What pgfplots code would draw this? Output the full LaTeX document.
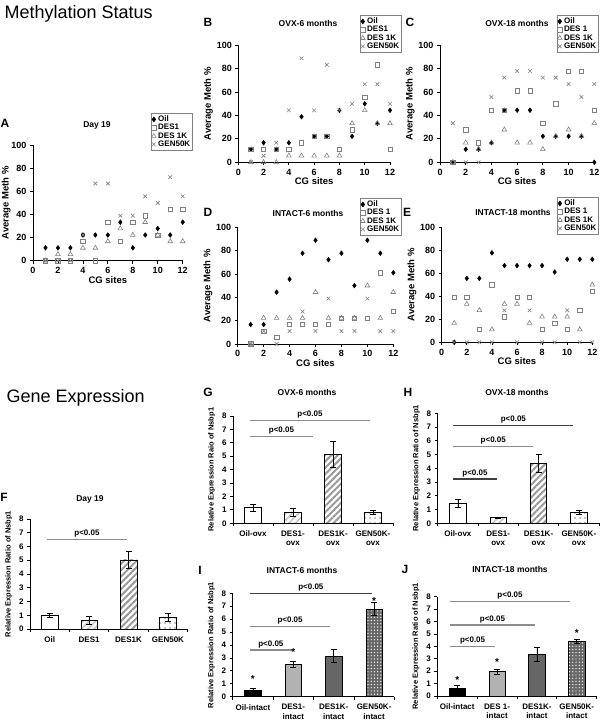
\documentclass[border=0pt]{standalone}
\usepackage{pgfplots}
\pgfplotsset{compat=1.18}
\usepackage{pgfplotstable}
\usepackage{fontspec}
\setmainfont{Liberation Sans}
\usetikzlibrary{patterns,patterns.meta}
\definecolor{mk}{HTML}{808080}
\definecolor{pl}{HTML}{8C8C8C}

\pgfplotstableread{
x oil des1 des1k gen
1 11.1 0 0 0
2 11.1 0 5.6 0
3 11.1 0 5.6 0
4 22.2 16.7 11.1 22.2
5 22.2 0 11.1 66.7
6 22.2 33.3 16.7 66.7
7 33.3 16.7 27.8 38.9
8 11.1 33.3 22.2 38.9
9 22.2 38.9 33.3 55.6
10 27.8 22.2 22.2 50
11 22.2 44.4 16.7 72.2
12 33.3 44.4 16.7 55.6
}\dA
\pgfplotstableread{
x oil des1 des1k gen
1 11.1 11.1 0 0
2 16.7 11.1 0 5.6
3 11.1 11.1 0 16.7
4 16.7 11.1 5.6 44.4
5 38.9 16.7 5.6 88.9
6 22.2 22.2 5.6 44.4
7 22.2 22.2 5.6 83.3
8 44.4 11.1 5.6 44.4
9 22.2 27.8 33.3 50
10 50 55.6 44.4 66.7
11 33.3 83.3 33.3 66.7
12 44.4 11.1 33.3 50
}\dB
\pgfplotstableread{
x oil des1 des1k gen
1 0 0 0 33.3
2 11.1 27.8 16.7 0
3 11.1 16.7 11.1 0
4 16.7 44.4 16.7 55.6
5 44.4 44.4 27.8 72.2
6 44.4 61.1 16.7 77.8
7 44.4 61.1 16.7 77.8
8 22.2 33.3 11.1 72.2
9 22.2 50 22.2 72.2
10 22.2 77.8 27.8 66.7
11 22.2 77.8 22.2 55.6
12 0 44.4 33.3 66.7
}\dC
\pgfplotstableread{
x oil des1 des1k gen
1 16.7 0 0 0
2 16.7 11.1 22.2 11.1
3 44.4 5.6 22.2 0
4 55.6 16.7 22.2 11.1
5 77.8 16.7 22.2 27.8
6 88.9 16.7 44.4 11.1
7 72.2 16.7 22.2 38.9
8 77.8 22.2 22.2 11.1
9 50 22.2 22.2 11.1
10 88.9 22.2 50 38.9
11 77.8 61.1 22.2 11.1
12 61.1 27.8 44.4 11.1
}\dD
\pgfplotstableread{
x oil des1 des1k gen
1 0 38.9 16.7 0
2 55.6 38.9 33.3 0
3 55.6 11.1 27.8 0
4 77.8 50 11.1 0
5 66.7 22.2 33.3 27.8
6 66.7 38.9 33.3 0
7 66.7 38.9 16.7 27.8
8 66.7 11.1 22.2 0
9 61.1 16.7 22.2 0
10 72.2 11.1 22.2 27.8
11 72.2 27.8 11.1 0
12 72.2 44.4 50 0
}\dE

\pgfplotsset{
  meth/.style={
    scale only axis, clip=false,
    axis lines*=left, axis line style={-, line width=0.8pt, black},
    xmin=0, xmax=12, ymin=0, ymax=100,
    xtick={0,2,...,12}, ytick={0,20,...,100},
    tick align=outside, major tick length=3pt,
    every tick/.style={black, line width=0.8pt},
    /pgf/number format/assume math mode=true,
    tick label style={font=\fontsize{9}{10}\selectfont\bfseries},
    xlabel={CG sites}, ylabel={Average Meth \%},
    label style={font=\fontsize{9.5}{11}\selectfont\bfseries},
    xlabel style={yshift=4pt},
    ylabel shift=-3pt,
    legend style={draw=mk, line width=0.6pt, font=\fontsize{8}{8.5}\selectfont\bfseries,
      inner sep=0.5pt, row sep=-2.8pt, anchor=north east, cells={anchor=west}},
  },
  oil/.style={only marks, mark=diamond*, mark size=2.4pt, black, mark options={fill=black}},
  des1/.style={only marks, mark=square, mark size=2.2pt, mk, mark options={line width=0.6pt}},
  des1k/.style={only marks, mark=triangle, mark size=2.7pt, mk, mark options={line width=0.6pt}},
  gen/.style={only marks, mark=x, mark size=2.6pt, mk, mark options={line width=0.6pt}},
  expr/.style={
    scale only axis, clip=false,
    axis lines*=left, axis line style={-, line width=0.8pt, black},
    xmin=0.5, xmax=4.5, ymin=0, ymax=8,
    ytick={0,1,...,8}, xtick={0.5,1.5,2.5,3.5,4.5}, xticklabels={},
    tick align=outside, major tick length=3pt,
    every tick/.style={black, line width=0.8pt},
    /pgf/number format/assume math mode=true,
    tick label style={font=\fontsize{8}{9}\selectfont\bfseries},
    ylabel style={font=\fontsize{7.5}{9}\selectfont\bfseries},
    extra x ticks={1,2,3,4},
    extra x tick style={major tick length=0pt, tick label style={align=center, anchor=north, font=\fontsize{8}{9.5}\selectfont\bfseries, yshift=-4pt}},
  },
  bb/.style={ybar, bar width=16.5pt, bar shift=0pt, draw=black, line width=0.6pt,
    error bars/y dir=both, error bars/y explicit,
    error bars/error bar style={black, line width=0.6pt},
    error bars/error mark options={rotate=90, black, mark size=3pt, line width=0.6pt}},
  wb/.style={fill=white},
  lstr/.style={pattern={Lines[angle=45,distance=4.5pt,line width=1.6pt]}, pattern color=gray!45},
  dstr/.style={pattern={Lines[angle=45,distance=4.5pt,line width=2pt]}, pattern color=gray!80},
  dotb/.style={pattern={Dots[distance=5pt,radius=0.6pt]}, pattern color=black},
  blk/.style={fill=black},
  lgr/.style={fill=black!30},
  dgr/.style={fill=black!60},
  chk/.style={fill=black!60, postaction={pattern={Dots[distance=3.2pt,radius=0.7pt]}, pattern color=white}},
}
\tikzset{pline/.style={pl, line width=1.3pt}, dline/.style={black!75, line width=1.3pt},
  ptxt/.style={font=\fontsize{8}{9}\selectfont\bfseries, text=black, above, inner sep=1.5pt},
  star/.style={font=\fontsize{10}{10}\selectfont\bfseries, inner sep=0pt},
  ttl/.style={font=\fontsize{8.5}{10}\selectfont\bfseries},
  let/.style={font=\fontsize{12}{14}\selectfont\bfseries}}

\begin{document}
\begin{tikzpicture}[x=1pt,y=1pt]
\useasboundingbox (0,0) rectangle (600,723);

\node[anchor=west, font=\fontsize{18}{20}\selectfont] at (1,709) {Methylation Status};
\node[anchor=west, font=\fontsize{18}{20}\selectfont] at (3,325) {Gene Expression};

% ---------- A
\begin{axis}[meth, width=149.7pt, height=115.7pt, at={(33pt,462.3pt)}, anchor=south west,
  ylabel shift=-6pt, legend style={at={(1.069,1.277)}}]
\addplot[oil] table[x=x,y=oil]{\dA};
\addplot[des1] table[x=x,y=des1]{\dA};
\addplot[des1k] table[x=x,y=des1k]{\dA};
\addplot[gen] table[x=x,y=gen]{\dA};
\legend{Oil,DES1,DES 1K,GEN50K}
\end{axis}
% ---------- B
\begin{axis}[meth, width=151.7pt, height=117pt, at={(238.3pt,560.7pt)}, anchor=south west,
  legend style={at={(1.079,1.259)}}]
\addplot[oil] table[x=x,y=oil]{\dB};
\addplot[des1] table[x=x,y=des1]{\dB};
\addplot[des1k] table[x=x,y=des1k]{\dB};
\addplot[gen] table[x=x,y=gen]{\dB};
\legend{Oil,DES1,DES 1K,GEN50K}
\end{axis}
% ---------- C
\begin{axis}[meth, width=154.3pt, height=117.3pt, at={(440pt,560.7pt)}, anchor=south west,
  legend style={at={(1.03,1.256)}}]
\addplot[oil] table[x=x,y=oil]{\dC};
\addplot[des1] table[x=x,y=des1]{\dC};
\addplot[des1k] table[x=x,y=des1k]{\dC};
\addplot[gen] table[x=x,y=gen]{\dC};
\legend{Oil,DES 1,DES 1K,GEN50K}
\end{axis}
% ---------- D
\begin{axis}[meth, width=155.6pt, height=116.7pt, at={(237.7pt,379pt)}, anchor=south west,
  legend style={at={(1.056,1.251)}}]
\addplot[oil] table[x=x,y=oil]{\dD};
\addplot[des1] table[x=x,y=des1]{\dD};
\addplot[des1k] table[x=x,y=des1k]{\dD};
\addplot[gen] table[x=x,y=gen]{\dD};
\legend{Oil,DES 1,DES 1K,GEN50K}
\end{axis}
% ---------- E
\begin{axis}[meth, width=150.6pt, height=115pt, at={(441.7pt,380.7pt)}, anchor=south west,
  legend style={at={(1.045,1.263)}}]
\addplot[oil] table[x=x,y=oil]{\dE};
\addplot[des1] table[x=x,y=des1]{\dE};
\addplot[des1k] table[x=x,y=des1k]{\dE};
\addplot[gen] table[x=x,y=gen]{\dE};
\legend{Oil,DES 1,DES 1K,GEN50K}
\end{axis}

% ---------- F
\begin{axis}[expr, width=157.7pt, height=110pt, at={(30pt,94pt)}, anchor=south west,
  ylabel={Relative Expression Ratio of Nsbp1},
  extra x tick labels={Oil,DES1,DES1K,GEN50K}]
\addplot[bb, wb] coordinates {(1,1.0) +- (0,0.17)};
\addplot[bb, lstr] coordinates {(2,0.65) +- (0,0.29)};
\addplot[bb, dstr] coordinates {(3,5.02) +- (0,0.64)};
\addplot[bb, dotb] coordinates {(4,0.87) +- (0,0.3)};
\draw[pline] (axis cs:0.93,6.52) -- (axis cs:2.96,6.52) node[ptxt, midway] {p<0.05};
\end{axis}
% ---------- G
\begin{axis}[expr, width=160pt, height=107.3pt, at={(233pt,199.7pt)}, anchor=south west,
  ylabel={Relative Expression Raio of Nsbp1},
  extra x tick labels={Oil-ovx,{DES1-\\ovx},{DES1K-\\ovx},{GEN50K-\\ovx}}]
\addplot[bb, wb] coordinates {(1,1.17) +- (0,0.27)};
\addplot[bb, lstr] coordinates {(2,0.82) +- (0,0.3)};
\addplot[bb, dstr] coordinates {(3,5.14) +- (0,0.98)};
\addplot[bb, dotb] coordinates {(4,0.8) +- (0,0.16)};
\draw[pline] (axis cs:0.925,7.65) -- (axis cs:3.925,7.65) node[ptxt, midway] {p<0.05};
\draw[pline] (axis cs:0.925,6.46) -- (axis cs:2.5,6.46) node[ptxt, midway] {p<0.05};
\end{axis}
% ---------- H
\begin{axis}[expr, width=161.3pt, height=110pt, at={(437.7pt,199.7pt)}, anchor=south west,
  ylabel={Relative Expression Ratio of Nsbp1},
  extra x tick labels={Oil-ovx,{DES1-\\ovx},{DES1K-\\ovx},{GEN50K-\\ovx}}]
\addplot[bb, wb] coordinates {(1,1.45) +- (0,0.29)};
\addplot[bb, lstr] coordinates {(2,0.41) +- (0,0.04)};
\addplot[bb, dstr] coordinates {(3,4.36) +- (0,0.63)};
\addplot[bb, dotb] coordinates {(4,0.78) +- (0,0.16)};
\draw[dline] (axis cs:0.887,7.13) -- (axis cs:3.865,7.13) node[ptxt, midway] {p<0.05};
\draw[pline] (axis cs:0.887,5.57) -- (axis cs:2.87,5.57) node[ptxt, midway] {p<0.05};
\draw[dline] (axis cs:0.887,3.22) -- (axis cs:1.96,3.22) node[ptxt, midway] {p<0.05};
\end{axis}
% ---------- I
\begin{axis}[expr, width=161.6pt, height=103.4pt, at={(232.7pt,26.3pt)}, anchor=south west,
  ylabel={Relative Expression Ratio of Nsbp1},
  extra x tick labels={Oil-intact,{DES1-\\intact},{DES1K-\\intact},{GEN50K-\\intact}}]
\addplot[bb, blk] coordinates {(1,0.46) +- (0,0.2)};
\addplot[bb, lgr] coordinates {(2,2.5) +- (0,0.26)};
\addplot[bb, dgr] coordinates {(3,3.15) +- (0,0.52)};
\addplot[bb, chk] coordinates {(4,6.79) +- (0,0.52)};
\draw[dline] (axis cs:0.93,8.0) -- (axis cs:3.94,8.0) node[ptxt, midway] {p<0.05};
\draw[pline] (axis cs:0.93,5.42) -- (axis cs:2.91,5.42) node[ptxt, midway] {p<0.05};
\draw[pline] (axis cs:0.93,3.61) -- (axis cs:1.96,3.61) node[ptxt, midway] {p<0.05};
\node[star] at (axis cs:1,1.35) {*};
\node[star] at (axis cs:2,3.45) {*};
\node[star] at (axis cs:4,7.4) {*};
\end{axis}
% ---------- J
\begin{axis}[expr, width=159.4pt, height=99.3pt, at={(437.3pt,27pt)}, anchor=south west,
  ylabel={Relative Expression Ratio of Nsbp1},
  extra x tick labels={Oil-intact,{DES 1-\\intact},{DES1K-\\intact},{GEN50K-\\intact}}]
\addplot[bb, blk] coordinates {(1,0.62) +- (0,0.22)};
\addplot[bb, lgr] coordinates {(2,1.96) +- (0,0.2)};
\addplot[bb, dgr] coordinates {(3,3.36) +- (0,0.57)};
\addplot[bb, chk] coordinates {(4,4.4) +- (0,0.13)};
\draw[pline] (axis cs:0.82,7.6) -- (axis cs:3.83,7.6) node[ptxt, midway] {p<0.05};
\draw[pline] (axis cs:0.82,5.72) -- (axis cs:2.95,5.72) node[ptxt, midway] {p<0.05};
\draw[pline] (axis cs:0.82,3.97) -- (axis cs:1.95,3.97) node[ptxt, midway] {p<0.05};
\node[star] at (axis cs:1,1.27) {*};
\node[star] at (axis cs:2,2.7) {*};
\node[star] at (axis cs:4,5.08) {*};
\end{axis}

% titles and letters
\node[ttl] at (97,598) {Day 19};
\node[ttl] at (308,700) {OVX-6 months};
\node[ttl] at (517,700) {OVX-18 months};
\node[ttl] at (308,510) {INTACT-6 months};
\node[ttl] at (513,511) {INTACT-18 months};
\node[ttl] at (90,224) {Day 19};
\node[ttl] at (307,331) {OVX-6 months};
\node[ttl] at (517,331) {OVX-18 months};
\node[ttl] at (302,153) {INTACT-6 months};
\node[ttl] at (510,154) {INTACT-18 months};
\node[let] at (5,600) {A};
\node[let] at (208,701) {B};
\node[let] at (410,701) {C};
\node[let] at (208,511) {D};
\node[let] at (407,511) {E};
\node[let] at (4,226) {F};
\node[let] at (208,331) {G};
\node[let] at (408,331) {H};
\node[let] at (200,153) {I};
\node[let] at (405,154) {J};
\end{tikzpicture}
\end{document}
